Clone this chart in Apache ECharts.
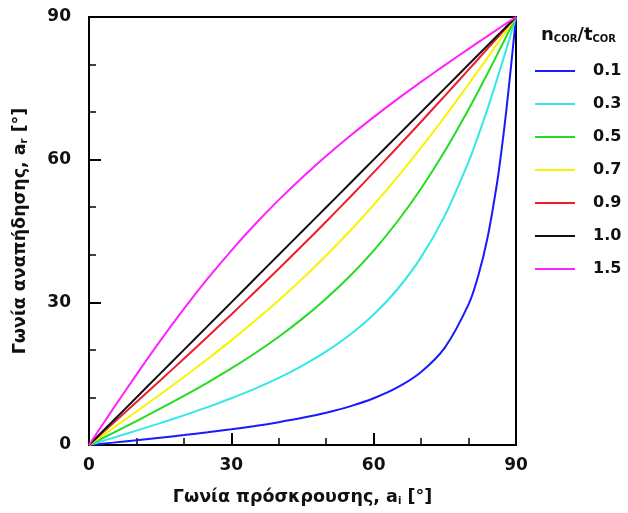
<!DOCTYPE html>
<html><head><meta charset="utf-8">
<script src="https://cdn.jsdelivr.net/npm/echarts@6/dist/echarts.min.js"></script>
<style>html,body{margin:0;padding:0;background:#fff}#c{width:628px;height:513px}</style>
</head><body><div id="c"></div>
<script>
var incidence = [0,5,10,15,20,25,30,35,40,45,50,55,60,65,70,75,80,82,84,86,87,88,89,90];
var r01 = [0,0.50,1.01,1.53,2.08,2.67,3.30,4.00,4.80,5.71,6.80,8.13,9.83,12.10,15.36,20.47,29.56,35.43,43.57,55.04,62.35,70.75,80.10,90];
var r03 = [0,1.50,3.03,4.60,6.23,7.96,9.83,11.86,14.13,16.70,19.67,23.19,27.46,32.75,39.50,48.23,59.55,64.90,70.69,76.88,80.09,83.36,86.67,90];
var r05 = [0,2.51,5.04,7.63,10.31,13.13,16.10,19.29,22.76,26.57,30.79,35.53,40.89,47.00,53.94,61.81,70.57,74.30,78.13,82.04,84.01,86.00,88.00,90];
var r07 = [0,3.50,7.04,10.62,14.29,18.08,22.00,26.11,30.43,34.99,39.84,44.99,50.49,56.33,62.53,69.06,75.86,78.65,81.46,84.30,85.72,87.14,88.57,90];
var r09 = [0,4.50,9.02,13.56,18.14,22.77,27.46,32.22,37.06,41.99,47.00,52.11,57.32,62.61,67.98,73.42,78.92,81.12,83.34,85.56,86.67,87.78,88.89,90];
var r10 = [0,5,10,15,20,25,30,35,40,45,50,55,60,65,70,75,80,82,84,86,87,88,89,90];
var r15 = [0,7.48,14.81,21.90,28.64,34.97,40.89,46.41,51.54,56.31,60.78,64.98,68.95,72.73,76.36,79.87,83.30,84.65,85.99,87.33,88.00,88.67,89.33,90];
var seriesNames = ['0.1','0.3','0.5','0.7','0.9','1.0','1.5'];
var seriesData = [r01,r03,r05,r07,r09,r10,r15];
var colors = ['#1a1aff','#33e8e8','#22dd22','#f5f500','#ee1c2c','#111111','#ff22ff'];
var axisTicks = [0,30,60,90];

var FONT = 'DejaVu Sans';
function pairs(ys){return incidence.map(function(x,i){return [x, ys[i]];});}
var series = seriesNames.map(function(n,i){
  return {name:n,type:'line',data:pairs(seriesData[i]),smooth:0.3,showSymbol:false,
    lineStyle:{color:colors[i],width:2},itemStyle:{color:colors[i]}};
});
var axisCommon = {
  type:'value',min:axisTicks[0],max:axisTicks[axisTicks.length-1],interval:30,
  axisLine:{show:true,lineStyle:{color:'#000',width:2}},
  axisTick:{show:true,inside:true,length:12,lineStyle:{color:'#000',width:2}},
  minorTick:{show:true,splitNumber:3,length:7,lineStyle:{color:'#000',width:1.5}},
  splitLine:{show:false},
  axisLabel:{color:'#111',fontFamily:FONT,fontWeight:'bold',fontSize:17},
  nameLocation:'middle',
  nameTextStyle:{color:'#111',fontFamily:FONT,fontWeight:'bold',fontSize:17.5,
    rich:{m:{fontFamily:FONT,fontWeight:'bold',fontSize:17.5,color:'#111'},
          s:{fontFamily:FONT,fontWeight:'bold',fontSize:10,color:'#111',verticalAlign:'bottom',padding:[7,0,0,0]}}}
};
var chart = echarts.init(document.getElementById('c'));
chart.setOption({
  animation:false,
  backgroundColor:'#fff',
  grid:{left:89,right:112,top:17,bottom:68,show:true,borderColor:'#000',borderWidth:2,backgroundColor:'transparent'},
  xAxis:Object.assign({},axisCommon,{name:'{m|Γωνία πρόσκρουσης, a}{s|i}{m| [°]}',nameGap:43,
    axisLabel:Object.assign({},axisCommon.axisLabel,{margin:12})}),
  yAxis:Object.assign({},axisCommon,{name:'{m|Γωνία αναπήδησης, a}{s|r}{m| [°]}',nameGap:60,nameRotate:90,
    axisLabel:Object.assign({},axisCommon.axisLabel,{margin:18})}),
  legend:{orient:'vertical',left:530,top:56,itemWidth:40,itemHeight:2,icon:'rect',itemGap:13,
    data:seriesNames,
    textStyle:{fontFamily:FONT,fontWeight:'bold',fontSize:16,color:'#111',lineHeight:20,padding:[0,0,0,13]}},
  graphic:[{type:'text',left:541,top:26,style:{
    text:'{m|n}{s|COR}{m|/t}{s|COR}',
    rich:{m:{fontFamily:FONT,fontWeight:'bold',fontSize:18,fill:'#111'},
          s:{fontFamily:FONT,fontWeight:'bold',fontSize:10,fill:'#111',verticalAlign:'bottom',padding:[7,0,0,0]}}}}],
  series:series
});
</script></body></html>
